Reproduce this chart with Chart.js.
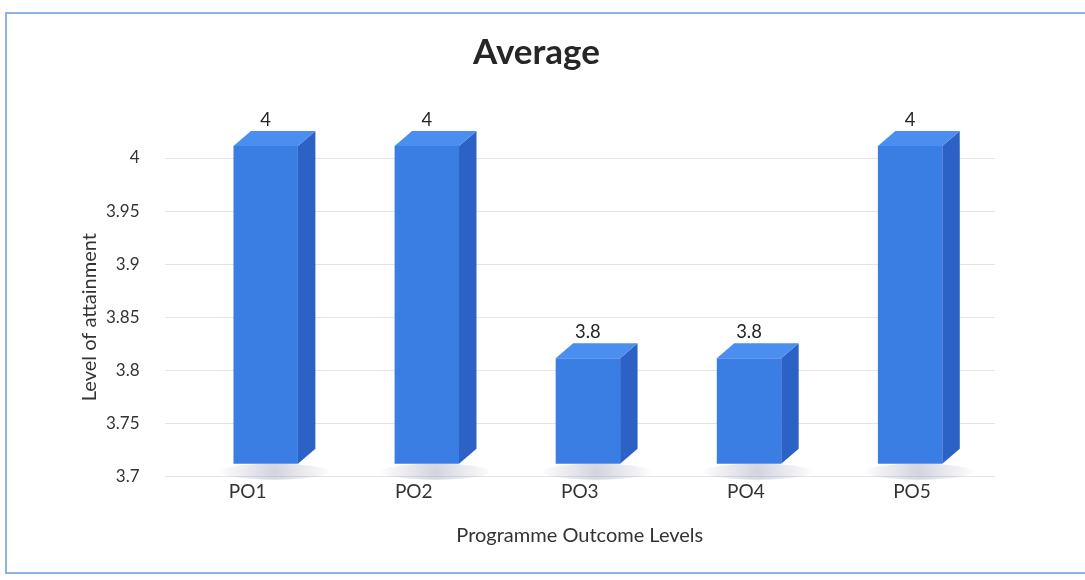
<!DOCTYPE html>
<html>
<head>
<meta charset="utf-8">
<script src="https://cdn.jsdelivr.net/npm/chart.js@4/dist/chart.umd.min.js"></script>
<style>
  html,body{margin:0;padding:0;background:#ffffff;width:1085px;height:580px;overflow:hidden;}
  #frame{position:absolute;left:5px;top:12px;width:1090px;height:562px;border:2px solid #8fb2e6;border-right:none;box-sizing:border-box;background:#fff;}
  #wrap{position:absolute;left:0;top:0;width:1085px;height:580px;}
</style>
</head>
<body>
<div id="frame"></div>
<div id="wrap"><canvas id="c" width="1085" height="580"></canvas></div>
<script>
const categories = ['PO1', 'PO2', 'PO3', 'PO4', 'PO5'];
const averageValues = [4, 4, 3.8, 3.8, 4];
const yTickLabels = ['3.7', '3.75', '3.8', '3.85', '3.9', '3.95', '4'];
const yMin = 3.7, yMax = 4, yStep = 0.05;
const chartTitle = 'Average';
const xAxisTitle = 'Programme Outcome Levels';
const yAxisTitle = 'Level of attainment';

const FONT = 'Lato, "Open Sans", sans-serif';
// 3D look: depth of side/top faces, vertical lift and slight perspective squeeze
const DX = 18, DY = 15, LIFT = 12, PERSP_SCALE = 0.97, PERSP_SHIFT = 25.5;

const threeD = {
  id: 'threeD',
  beforeDatasetsDraw(chart) {
    const ctx = chart.ctx;
    const meta = chart.getDatasetMeta(0);
    ctx.save();
    ctx.translate(PERSP_SHIFT, 0);
    ctx.scale(PERSP_SCALE, 1);
    meta.data.forEach(bar => {
      const w = bar.width;
      const cx = bar.x + DX / 2, cy = bar.base - 4;
      const g = ctx.createRadialGradient(cx, cy, 2, cx, cy, w * 0.9);
      g.addColorStop(0, 'rgba(150,150,180,0.4)');
      g.addColorStop(1, 'rgba(150,150,180,0)');
      ctx.fillStyle = g;
      ctx.beginPath();
      ctx.ellipse(cx, cy, w * 0.85, 8, 0, 0, Math.PI * 2);
      ctx.fill();
    });
    ctx.restore();
    ctx.save();
    ctx.translate(PERSP_SHIFT, -LIFT);
    ctx.scale(PERSP_SCALE, 1);
  },
  afterDatasetsDraw(chart) {
    const ctx = chart.ctx;
    const meta = chart.getDatasetMeta(0);
    meta.data.forEach((bar, i) => {
      const l = bar.x - bar.width / 2, r = bar.x + bar.width / 2;
      const t = bar.y, b = bar.base;
      ctx.fillStyle = '#2c62c6';
      ctx.beginPath();
      ctx.moveTo(r, t); ctx.lineTo(r + DX, t - DY); ctx.lineTo(r + DX, b - DY); ctx.lineTo(r, b);
      ctx.closePath(); ctx.fill();
      ctx.fillStyle = '#4a8ef0';
      ctx.beginPath();
      ctx.moveTo(l, t); ctx.lineTo(l + DX, t - DY); ctx.lineTo(r + DX, t - DY); ctx.lineTo(r, t);
      ctx.closePath(); ctx.fill();
      ctx.fillStyle = '#262626';
      ctx.font = '19px ' + FONT;
      ctx.textAlign = 'center';
      ctx.textBaseline = 'bottom';
      ctx.fillText(String(averageValues[i]), bar.x, t - DY - 2);
    });
    ctx.restore();
  }
};

new Chart(document.getElementById('c'), {
  type: 'bar',
  data: {
    labels: categories,
    datasets: [{
      label: chartTitle,
      data: averageValues,
      base: yMin,
      backgroundColor: '#3a7ee4',
      borderWidth: 0,
      barPercentage: 0.4,
      categoryPercentage: 1.0,
      clip: false
    }]
  },
  options: {
    responsive: false,
    animation: false,
    layout: { padding: { left: 78, right: 90, top: 30, bottom: 28 } },
    plugins: {
      legend: { display: false },
      tooltip: { enabled: false },
      title: {
        display: true,
        text: chartTitle,
        color: '#262626',
        font: { family: FONT, size: 35, weight: 'bold' },
        padding: { top: 2, bottom: 84 }
      }
    },
    scales: {
      x: {
        grid: { display: false },
        border: { display: false },
        ticks: { color: '#333', font: { family: FONT, size: 19 }, padding: -4 },
        title: { display: true, text: xAxisTitle, color: '#333', font: { family: FONT, size: 20 }, padding: { top: 25 } }
      },
      y: {
        min: yMin,
        max: yMax,
        ticks: {
          stepSize: yStep,
          color: '#333',
          font: { family: FONT, size: 17 },
          padding: 25,
          callback: (v, i) => yTickLabels[i]
        },
        grid: { color: '#e4e4e4', drawTicks: false },
        border: { display: false },
        title: { display: true, text: yAxisTitle, color: '#333', font: { family: FONT, size: 20 }, padding: { top: 0, bottom: -21 } }
      }
    }
  },
  plugins: [threeD]
});
</script>
</body>
</html>
